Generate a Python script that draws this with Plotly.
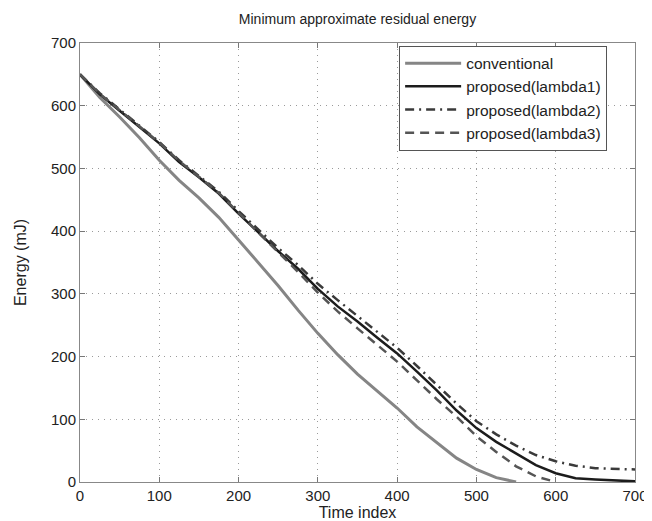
import plotly.graph_objs as go

t_conv = [0, 25, 50, 75, 100, 125, 150, 175, 200, 225, 250, 275, 300, 325,
          350, 375, 400, 425, 450, 475, 500, 525, 550]
conventional = [650, 613, 582, 549, 513, 481, 453, 422, 386, 350, 313, 274,
                237, 203, 172, 145, 118, 88, 63, 38, 20, 7, 0]

t_prop = [0, 25, 50, 75, 100, 125, 150, 175, 200, 225, 250, 275, 300, 325,
          350, 375, 400, 425, 450, 475, 500, 525, 550, 575, 600, 625, 650,
          675, 700]
lambda1 = [650, 618, 592, 566, 540, 510, 486, 460, 428, 398, 368, 340, 308,
           280, 256, 230, 205, 176, 146, 114, 86, 64, 46, 27, 14, 6, 4, 2, 1]
lambda2 = [650, 620, 594, 568, 542, 513, 488, 463, 432, 403, 373, 346, 316,
           290, 265, 240, 214, 185, 155, 125, 97, 76, 58, 43, 33, 26, 22,
           21, 20]

t_l3 = [0, 25, 50, 75, 100, 125, 150, 175, 200, 225, 250, 275, 300, 325,
        350, 375, 400, 425, 450, 475, 500, 525, 550, 575, 600]
lambda3 = [650, 619, 593, 567, 541, 512, 487, 461, 429, 398, 366, 335, 302,
           272, 245, 218, 192, 162, 132, 104, 73, 48, 25, 9, 0]

font = "Liberation Sans, Arial, sans-serif"

fig = go.Figure()
fig.add_trace(go.Scatter(x=t_conv, y=conventional, mode="lines",
                         name="conventional",
                         line=dict(color="#858585", width=3)))
fig.add_trace(go.Scatter(x=t_prop, y=lambda1, mode="lines",
                         name="proposed(lambda1)",
                         line=dict(color="#1c1c1c", width=2.5)))
fig.add_trace(go.Scatter(x=t_prop, y=lambda2, mode="lines",
                         name="proposed(lambda2)",
                         line=dict(color="#3a3a3a", width=2.5,
                                   dash="9px,5px,2px,5px")))
fig.add_trace(go.Scatter(x=t_l3, y=lambda3, mode="lines",
                         name="proposed(lambda3)",
                         line=dict(color="#555555", width=2.5,
                                   dash="9px,6px")))

axis_style = dict(
    range=[0, 700], dtick=100, ticks="inside", ticklen=5,
    tickcolor="#777", showline=True, linecolor="#888", linewidth=1,
    mirror="ticks", showgrid=True, gridcolor="#9a9a9a", griddash="1px,5px",
    gridwidth=1, zeroline=False, tickfont=dict(size=15, color="#222"),
)

fig.update_xaxes(**axis_style, title=dict(text="Time index", standoff=2,
                                          font=dict(size=16, color="#222")))
fig.update_yaxes(**axis_style, title=dict(text="Energy (mJ)", standoff=20,
                                          font=dict(size=16, color="#222")))

fig.update_layout(
    width=652, height=521,
    margin=dict(l=71, r=25, t=35, b=45),
    paper_bgcolor="white", plot_bgcolor="white",
    font=dict(family=font, color="#222"),
    title=dict(text="Minimum approximate residual energy",
               font=dict(size=14, color="#222"),
               x=0.5, xref="paper", y=0.978, yref="container",
               yanchor="middle"),
    legend=dict(x=0.575, y=0.994, xanchor="left", yanchor="top",
                bgcolor="white", bordercolor="#555", borderwidth=1,
                font=dict(size=15.5, color="#222"), itemwidth=56,
                tracegroupgap=0),
    showlegend=True,
)

fig.write_html("out.html")
